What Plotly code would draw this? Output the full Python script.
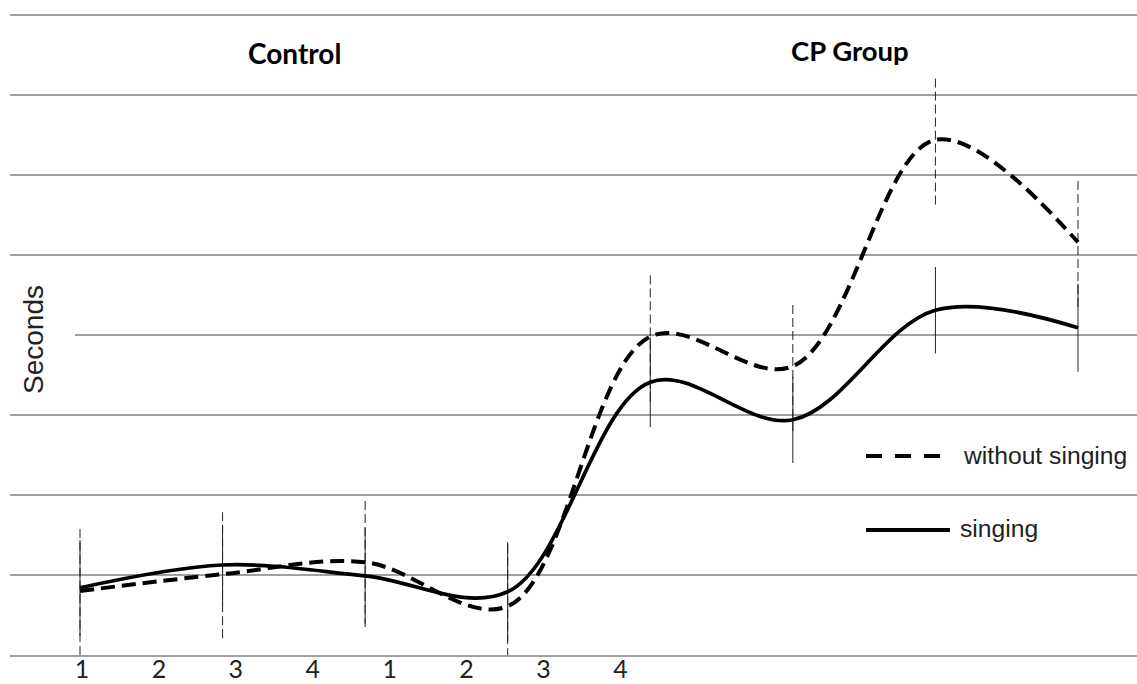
import plotly.graph_objects as go

# ---- data (values in grid units) ----
x_points = [1, 2, 3, 4, 5, 6, 7, 8]
singing = [0.84, 1.125, 0.99, 0.79, 3.41, 2.94, 4.31, 4.09]
singing_err = [0.60, 0.50, 0.60, 0.62, 0.56, 0.54, 0.54, 0.55]
without_singing = [0.80, 1.01, 1.16, 0.61, 3.98, 3.61, 6.44, 5.16]
without_singing_err = [0.80, 0.80, 0.81, 0.80, 0.81, 0.81, 0.81, 0.81]
tick_labels = ["1", "2", "3", "4", "1", "2", "3", "4"]
group_labels = ["Control", "CP Group"]
legend_labels = ["without singing", "singing"]
y_title = "Seconds"

W, H = 1137, 684
ML, MR, MT, MB = 10, 0, 11, 29
PW, PH = W - ML - MR, H - MT - MB

def px_x(px):
    return (px - ML) / PW

def px_y(py):
    return (H - MB - py) / PH

def err_xy(xs, ys, es):
    X, Y = [], []
    for x, y, e in zip(xs, ys, es):
        X += [x, x, None]
        Y += [y - e, y + e, None]
    return X, Y

fig = go.Figure()

ex, ey = err_xy(x_points, without_singing, without_singing_err)
fig.add_trace(go.Scatter(x=ex, y=ey, mode="lines", showlegend=False, hoverinfo="skip",
                         line=dict(color="#222222", width=1, dash="9px,4px")))
ex, ey = err_xy(x_points, singing, singing_err)
fig.add_trace(go.Scatter(x=ex, y=ey, mode="lines", showlegend=False, hoverinfo="skip",
                         line=dict(color="#222222", width=1)))

fig.add_trace(go.Scatter(x=x_points, y=without_singing, mode="lines", name=legend_labels[0],
                         showlegend=False,
                         line=dict(color="black", width=4, dash="14px,7px", shape="spline", smoothing=1)))
fig.add_trace(go.Scatter(x=x_points, y=singing, mode="lines", name=legend_labels[1],
                         showlegend=False,
                         line=dict(color="black", width=3.7, shape="spline", smoothing=1)))

# tick positions for the "1 2 3 4 1 2 3 4" labels
tick_start, tick_step = 1.014, 0.5395
tickvals = [tick_start + i * tick_step for i in range(len(tick_labels))]

fig.update_layout(
    width=W, height=H,
    margin=dict(l=ML, r=MR, t=MT, b=MB, autoexpand=False),
    paper_bgcolor="white", plot_bgcolor="white",
    showlegend=False,
    xaxis=dict(range=[0.509, 8.414], showgrid=False, zeroline=False, automargin=False,
               showline=True, linecolor="#a0a0a0", linewidth=1.5,
               tickmode="array", tickvals=tickvals, ticktext=tick_labels,
               ticks="", ticklabelstandoff=-9,
               tickfont=dict(family="Lato", size=25, color="#222222")),
    yaxis=dict(range=[0, 8.05], dtick=1, showgrid=True, gridcolor="#a0a0a0", gridwidth=1.5,
               zeroline=False, showticklabels=False, showline=False, ticks="", automargin=False),
)

# gap in the grid line behind the y title
fig.add_shape(type="rect", xref="paper", yref="y", x0=0, x1=px_x(75), y0=3.93, y1=4.07,
              fillcolor="white", line=dict(width=0), layer="above")

fig.add_annotation(text=y_title, xref="paper", yref="paper", x=px_x(33), y=px_y(340),
                   textangle=-90, showarrow=False, xanchor="center", yanchor="middle",
                   font=dict(family="Liberation Sans", size=28, color="#222222"))

fig.add_annotation(text="<b>%s</b>" % group_labels[0], xref="paper", yref="paper",
                   x=px_x(294), y=px_y(53), showarrow=False, xanchor="center", yanchor="middle",
                   font=dict(family="Lato", size=28, color="black"))
fig.add_annotation(text="<b>%s</b>" % group_labels[1], xref="paper", yref="paper",
                   x=px_x(850), y=px_y(50), showarrow=False, xanchor="center", yanchor="middle",
                   font=dict(family="Lato", size=27.5, color="black"))

# manual legend
fig.add_shape(type="line", xref="paper", yref="paper", x0=px_x(866), x1=px_x(940),
              y0=px_y(456), y1=px_y(456), line=dict(color="black", width=4, dash="16px,13px"))
fig.add_shape(type="line", xref="paper", yref="paper", x0=px_x(866), x1=px_x(950),
              y0=px_y(530), y1=px_y(530), line=dict(color="black", width=4))
fig.add_annotation(text=legend_labels[0], xref="paper", yref="paper", x=px_x(961), y=px_y(455),
                   showarrow=False, xanchor="left", yanchor="middle",
                   font=dict(family="Liberation Sans", size=24.7, color="#222222"))
fig.add_annotation(text=legend_labels[1], xref="paper", yref="paper", x=px_x(958), y=px_y(528),
                   showarrow=False, xanchor="left", yanchor="middle",
                   font=dict(family="Liberation Sans", size=24.7, color="#222222"))

fig.write_html("out.html", config={"displayModeBar": False},
               post_script="document.body.style.margin='0';document.body.style.overflow='hidden';")
